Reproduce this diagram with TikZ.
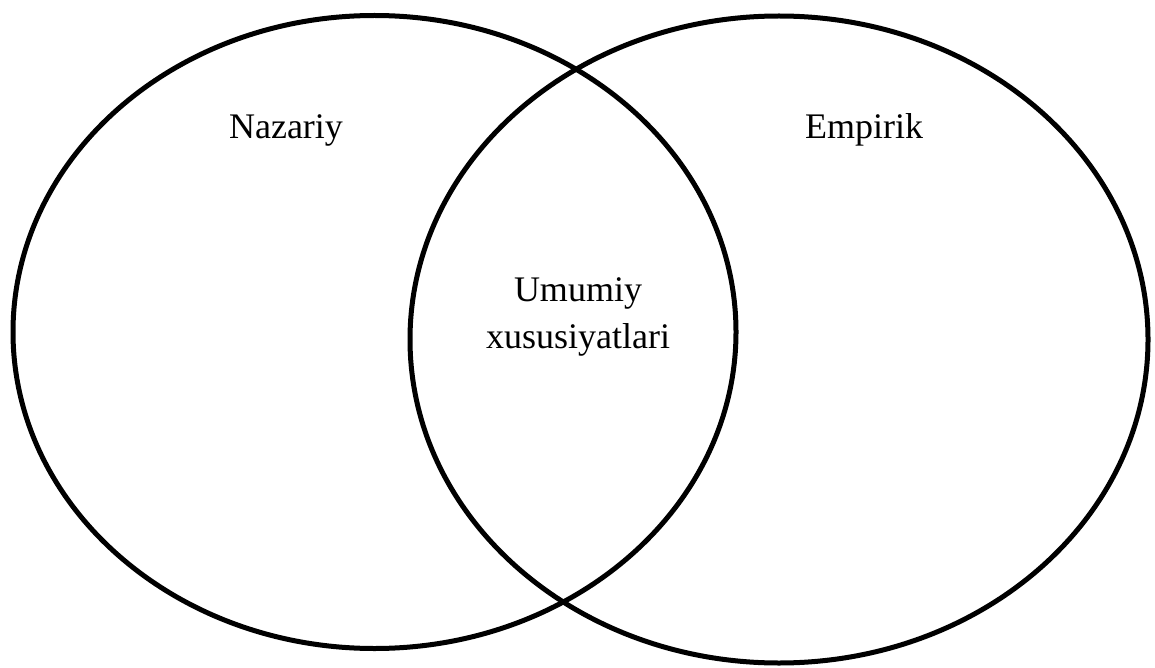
\documentclass[tikz,border=0pt]{standalone}
\usepackage{fontspec}
\setmainfont{Liberation Serif}
\begin{document}
\begin{tikzpicture}[x=1pt,y=-1pt,
  ring/.style={draw=black,line width=5pt},
  lbl/.style={font=\fontsize{36}{47}\selectfont,inner sep=0pt,anchor=base,align=center}]
\useasboundingbox (0,0) rectangle (1155,668);
\draw[ring] (374.5,332) ellipse [x radius=361.5, y radius=316.5];
\draw[ring] (779,339.5) ellipse [x radius=369, y radius=323.5];
\node[lbl] (naz) at (286,139) {Nazariy};
\node[lbl] (emp) at (864,139) {Empirik};
\node[lbl,anchor=north] (umu) at (578,277) {Umumiy\\xususiyatlari};
\end{tikzpicture}
\end{document}
